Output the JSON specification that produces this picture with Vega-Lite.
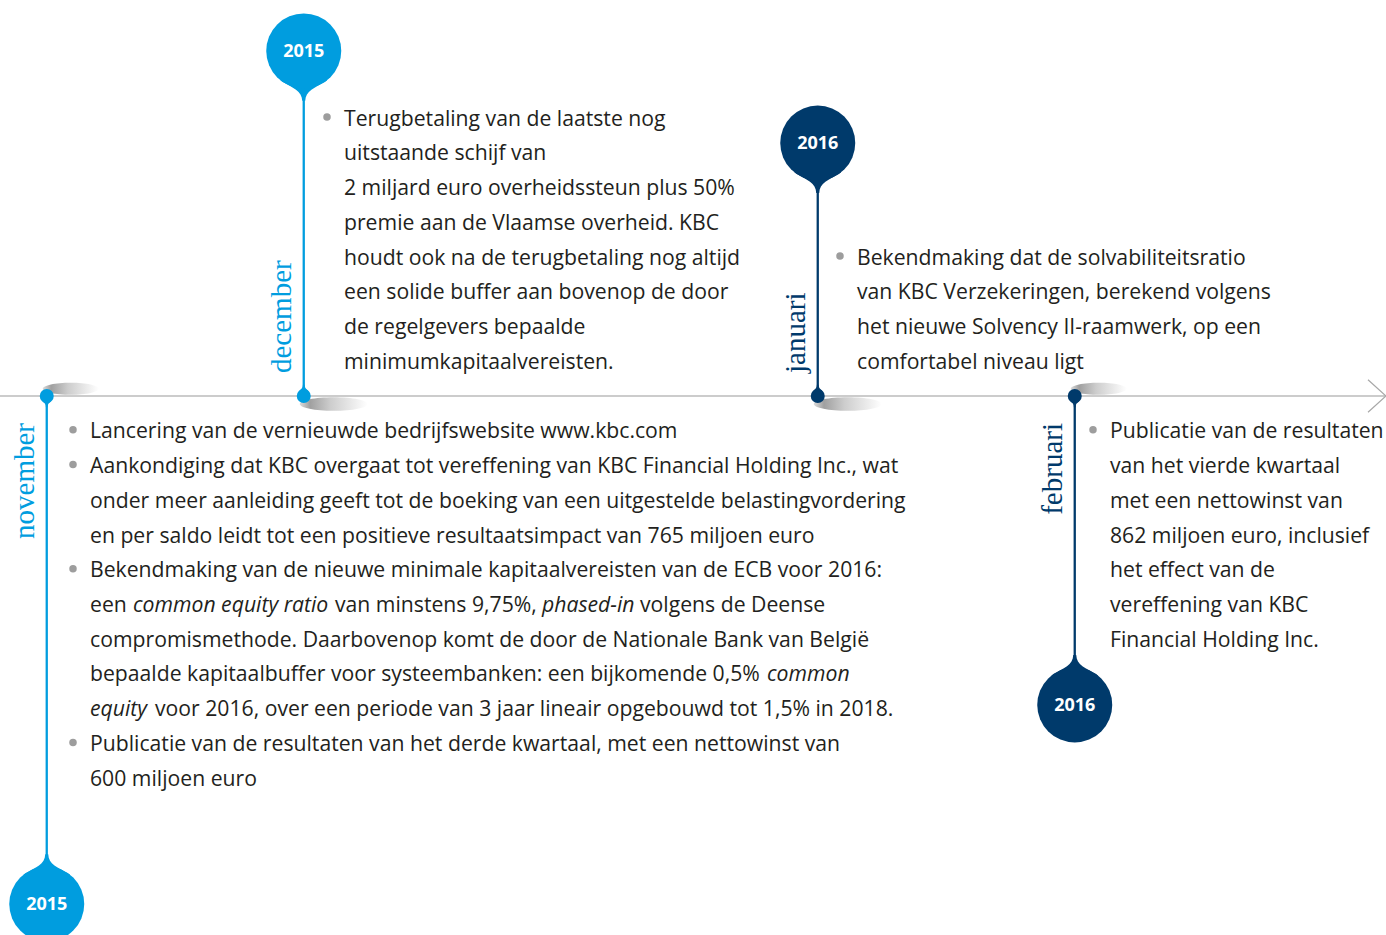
{
  "$schema": "https://vega.github.io/schema/vega-lite/v6.json",
  "width": 1386,
  "height": 935,
  "padding": 0,
  "autosize": "none",
  "background": "#ffffff",
  "config": {"view": {"stroke": null}},
  "resolve": {"scale": {"shape": "independent"}},
  "datasets": {
    "pins": [
      {"month": "november", "year": "2015", "slot": 0, "head": 14.62, "side": "below"},
      {"month": "december", "year": "2015", "slot": 1, "head": -9.93, "side": "above"},
      {"month": "januari", "year": "2016", "slot": 3, "head": -7.28, "side": "above"},
      {"month": "februari", "year": "2016", "slot": 4, "head": 8.89, "side": "below"}
    ],
    "lines": [
      {"month": "december", "line": -8, "t": 1.1566, "text": "Terugbetaling van de laatste nog", "bullet": true, "emphasis": false},
      {"month": "december", "line": -7, "t": 1.1566, "text": "uitstaande schijf van", "bullet": false, "emphasis": false},
      {"month": "december", "line": -6, "t": 1.1566, "text": "2 miljard euro overheidssteun plus 50%", "bullet": false, "emphasis": false},
      {"month": "december", "line": -5, "t": 1.1566, "text": "premie aan de Vlaamse overheid. KBC", "bullet": false, "emphasis": false},
      {"month": "december", "line": -4, "t": 1.1566, "text": "houdt ook na de terugbetaling nog altijd", "bullet": false, "emphasis": false},
      {"month": "december", "line": -3, "t": 1.1566, "text": "een solide buffer aan bovenop de door", "bullet": false, "emphasis": false},
      {"month": "december", "line": -2, "t": 1.1566, "text": "de regelgevers bepaalde", "bullet": false, "emphasis": false},
      {"month": "december", "line": -1, "t": 1.1566, "text": "minimumkapitaalvereisten.", "bullet": false, "emphasis": false},
      {"month": "januari", "line": -4, "t": 3.1527, "text": "Bekendmaking dat de solvabiliteitsratio", "bullet": true, "emphasis": false},
      {"month": "januari", "line": -3, "t": 3.1527, "text": "van KBC Verzekeringen, berekend volgens", "bullet": false, "emphasis": false},
      {"month": "januari", "line": -2, "t": 3.1527, "text": "het nieuwe Solvency II-raamwerk, op een", "bullet": false, "emphasis": false},
      {"month": "januari", "line": -1, "t": 3.1527, "text": "comfortabel niveau ligt", "bullet": false, "emphasis": false},
      {"month": "november", "line": 1, "t": 0.1683, "text": "Lancering van de vernieuwde bedrijfswebsite www.kbc.com", "bullet": true, "emphasis": false},
      {"month": "november", "line": 2, "t": 0.1683, "text": "Aankondiging dat KBC overgaat tot vereffening van KBC Financial Holding Inc., wat", "bullet": true, "emphasis": false},
      {"month": "november", "line": 3, "t": 0.1683, "text": "onder meer aanleiding geeft tot de boeking van een uitgestelde belastingvordering", "bullet": false, "emphasis": false},
      {"month": "november", "line": 4, "t": 0.1683, "text": "en per saldo leidt tot een positieve resultaatsimpact van 765 miljoen euro", "bullet": false, "emphasis": false},
      {"month": "november", "line": 5, "t": 0.1683, "text": "Bekendmaking van de nieuwe minimale kapitaalvereisten van de ECB voor 2016:", "bullet": true, "emphasis": false},
      {"month": "november", "line": 6, "t": 0.1683, "text": "een", "bullet": false, "emphasis": false},
      {"month": "november", "line": 6, "t": 0.3356, "text": "common equity ratio", "bullet": false, "emphasis": true},
      {"month": "november", "line": 6, "t": 1.1216, "text": "van minstens 9,75%,", "bullet": false, "emphasis": false},
      {"month": "november", "line": 6, "t": 1.9270, "text": "phased-in", "bullet": false, "emphasis": true},
      {"month": "november", "line": 6, "t": 2.3084, "text": "volgens de Deense", "bullet": false, "emphasis": false},
      {"month": "november", "line": 7, "t": 0.1683, "text": "compromismethode. Daarbovenop komt de door de Nationale Bank van België", "bullet": false, "emphasis": false},
      {"month": "november", "line": 8, "t": 0.1683, "text": "bepaalde kapitaalbuffer voor systeembanken: een bijkomende 0,5%", "bullet": false, "emphasis": false},
      {"month": "november", "line": 8, "t": 2.8025, "text": "common", "bullet": false, "emphasis": true},
      {"month": "november", "line": 9, "t": 0.1683, "text": "equity", "bullet": false, "emphasis": true},
      {"month": "november", "line": 9, "t": 0.4212, "text": "voor 2016, over een periode van 3 jaar lineair opgebouwd tot 1,5% in 2018.", "bullet": false, "emphasis": false},
      {"month": "november", "line": 10, "t": 0.1683, "text": "Publicatie van de resultaten van het derde kwartaal, met een nettowinst van", "bullet": true, "emphasis": false},
      {"month": "november", "line": 11, "t": 0.1683, "text": "600 miljoen euro", "bullet": false, "emphasis": false},
      {"month": "februari", "line": 1, "t": 4.1372, "text": "Publicatie van de resultaten", "bullet": true, "emphasis": false},
      {"month": "februari", "line": 2, "t": 4.1372, "text": "van het vierde kwartaal", "bullet": false, "emphasis": false},
      {"month": "februari", "line": 3, "t": 4.1372, "text": "met een nettowinst van", "bullet": false, "emphasis": false},
      {"month": "februari", "line": 4, "t": 4.1372, "text": "862 miljoen euro, inclusief", "bullet": false, "emphasis": false},
      {"month": "februari", "line": 5, "t": 4.1372, "text": "het effect van de", "bullet": false, "emphasis": false},
      {"month": "februari", "line": 6, "t": 4.1372, "text": "vereffening van KBC", "bullet": false, "emphasis": false},
      {"month": "februari", "line": 7, "t": 4.1372, "text": "Financial Holding Inc.", "bullet": false, "emphasis": false}
    ]
  },
  "layer": [
    {
      "data": {"name": "pins"},
      "mark": {
        "type": "point",
        "filled": true,
        "opacity": 1,
        "fillOpacity": 0.85,
        "strokeWidth": 0,
        "size": 6400,
        "fill": {"gradient": "linear", "x1": 0, "y1": 0, "x2": 1, "y2": 0,
          "stops": [{"offset": 0, "color": "#d6d6d6"}, {"offset": 0.15, "color": "#8f8f8f"}, {"offset": 0.45, "color": "#c4c4c4"}, {"offset": 1, "color": "#ffffff"}]}
      },
      "encoding": {
        "x": {"field": "slot", "type": "quantitative", "scale": {"domain": [-0.1819, 5.2111], "nice": false, "zero": false}, "axis": null},
        "y": {"datum": 0, "type": "quantitative", "scale": {"domain": [-11.396, 15.511], "nice": false, "zero": false, "reverse": true}, "axis": null},
        "shape": {"field": "side", "type": "nominal", "legend": null,
          "scale": {"domain": ["above", "below"], "range": [
            "M-0.1,0.2 C-0.1,0.1061 0.2805,0.03 0.75,0.03 C1.2195,0.03 1.6,0.1061 1.6,0.2 C1.6,0.2939 1.2195,0.37 0.75,0.37 C0.2805,0.37 -0.1,0.2939 -0.1,0.2 Z",
            "M-0.1,-0.18 C-0.1,-0.2628 0.2134,-0.33 0.6,-0.33 C0.9866,-0.33 1.3,-0.2628 1.3,-0.18 C1.3,-0.0972 0.9866,-0.03 0.6,-0.03 C0.2134,-0.03 -0.1,-0.0972 -0.1,-0.18 Z"]}}
      }
    },
    {
      "data": {"values": [{"part": "axis"}]},
      "mark": {"type": "rule", "color": "#9a9a9a", "strokeWidth": 1.2},
      "encoding": {
        "y": {"datum": 0, "type": "quantitative"}
      }
    },
    {
      "data": {"values": [{"part": "arrow"}]},
      "mark": {"type": "point", "filled": false, "stroke": "#a8a8a8", "strokeWidth": 1.2, "opacity": 1, "size": 1296,
        "shape": "M-1,-0.9 L0,0 L-1,0.9"},
      "encoding": {
        "x": {"value": "width"},
        "y": {"datum": 0, "type": "quantitative"}
      }
    },
    {
      "data": {"name": "pins"},
      "mark": {"type": "rule", "strokeWidth": 2.3},
      "encoding": {
        "x": {"field": "slot", "type": "quantitative"},
        "y": {"field": "head", "type": "quantitative"},
        "y2": {"datum": 0},
        "color": {"field": "year", "type": "nominal", "legend": null, "scale": {"domain": ["2015", "2016"], "range": ["#009ddf", "#003a6b"]}}
      }
    },
    {
      "data": {"name": "pins"},
      "mark": {"type": "point", "filled": true, "opacity": 1, "strokeWidth": 0, "size": 5625},
      "encoding": {
        "x": {"field": "slot", "type": "quantitative"},
        "y": {"field": "head", "type": "quantitative"},
        "color": {"field": "year", "type": "nominal", "legend": null},
        "shape": {"field": "side", "type": "nominal", "legend": null,
          "scale": {"domain": ["above", "below"], "range": [
            "M0.62,0.785 C0.28,1.0 0.05,1.05 0.04,1.33 L-0.04,1.33 C-0.05,1.05 -0.28,1.0 -0.62,0.785 L0,0 Z",
            "M0.62,-0.785 C0.28,-1.0 0.05,-1.05 0.04,-1.33 L-0.04,-1.33 C-0.05,-1.05 -0.28,-1.0 -0.62,-0.785 L0,0 Z"]}}
      }
    },
    {
      "data": {"name": "pins"},
      "mark": {"type": "point", "filled": true, "opacity": 1, "strokeWidth": 0, "size": 5625, "shape": "circle"},
      "encoding": {
        "x": {"field": "slot", "type": "quantitative"},
        "y": {"field": "head", "type": "quantitative"},
        "color": {"field": "year", "type": "nominal", "legend": null}
      }
    },
    {
      "data": {"name": "pins"},
      "mark": {"type": "point", "filled": true, "opacity": 1, "strokeWidth": 0, "size": 196},
      "encoding": {
        "x": {"field": "slot", "type": "quantitative"},
        "y": {"datum": 0, "type": "quantitative"},
        "color": {"field": "year", "type": "nominal", "legend": null},
        "shape": {"field": "side", "type": "nominal", "legend": null,
          "scale": {"domain": ["above", "below"], "range": [
            "M0.62,-0.785 C0.28,-1.0 0.12,-1.2 0.12,-1.6 L-0.12,-1.6 C-0.12,-1.2 -0.28,-1.0 -0.62,-0.785 L0,0 Z",
            "M0.62,0.785 C0.28,1.0 0.12,1.2 0.12,1.6 L-0.12,1.6 C-0.12,1.2 -0.28,1.0 -0.62,0.785 L0,0 Z"]}}
      }
    },
    {
      "data": {"name": "pins"},
      "mark": {"type": "point", "filled": true, "opacity": 1, "strokeWidth": 0, "size": 196, "shape": "circle"},
      "encoding": {
        "x": {"field": "slot", "type": "quantitative"},
        "y": {"datum": 0, "type": "quantitative"},
        "color": {"field": "year", "type": "nominal", "legend": null}
      }
    },
    {
      "data": {"name": "pins"},
      "mark": {"type": "text", "font": "Open Sans", "fontWeight": "bold", "fontSize": 18, "color": "#ffffff", "baseline": "middle", "align": "center", "dy": 1},
      "encoding": {
        "x": {"field": "slot", "type": "quantitative"},
        "y": {"field": "head", "type": "quantitative"},
        "text": {"field": "year"}
      }
    },
    {
      "data": {"name": "pins"},
      "transform": [{"filter": "datum.side === 'above'"}],
      "mark": {"type": "text", "font": "Liberation Serif", "fontSize": 29, "angle": 270, "align": "left", "baseline": "alphabetic", "dx": 23, "dy": -12.5},
      "encoding": {
        "x": {"field": "slot", "type": "quantitative"},
        "y": {"datum": 0, "type": "quantitative"},
        "text": {"field": "month"},
        "color": {"field": "year", "type": "nominal", "legend": null}
      }
    },
    {
      "data": {"name": "pins"},
      "transform": [{"filter": "datum.side === 'below'"}],
      "mark": {"type": "text", "font": "Liberation Serif", "fontSize": 29, "angle": 270, "align": "right", "baseline": "alphabetic", "dx": -27, "dy": -12.5},
      "encoding": {
        "x": {"field": "slot", "type": "quantitative"},
        "y": {"datum": 0, "type": "quantitative"},
        "text": {"field": "month"},
        "color": {"field": "year", "type": "nominal", "legend": null}
      }
    },
    {
      "data": {"name": "lines"},
      "transform": [{"filter": "datum.bullet"}],
      "mark": {"type": "point", "filled": true, "opacity": 1, "color": "#9d9d9d", "size": 56, "shape": "circle", "xOffset": -17, "yOffset": -1},
      "encoding": {
        "x": {"field": "t", "type": "quantitative"},
        "y": {"field": "line", "type": "quantitative"}
      }
    },
    {
      "data": {"name": "lines"},
      "transform": [{"filter": "!datum.emphasis"}],
      "mark": {"type": "text", "font": "Open Sans", "fontSize": 21.2, "color": "#231f20", "align": "left", "baseline": "alphabetic", "dy": 7.5},
      "encoding": {
        "x": {"field": "t", "type": "quantitative"},
        "y": {"field": "line", "type": "quantitative"},
        "text": {"field": "text"}
      }
    },
    {
      "data": {"name": "lines"},
      "transform": [{"filter": "datum.emphasis"}],
      "mark": {"type": "text", "font": "Open Sans", "fontStyle": "italic", "fontSize": 21.2, "color": "#231f20", "align": "left", "baseline": "alphabetic", "dy": 7.5},
      "encoding": {
        "x": {"field": "t", "type": "quantitative"},
        "y": {"field": "line", "type": "quantitative"},
        "text": {"field": "text"}
      }
    }
  ]
}
